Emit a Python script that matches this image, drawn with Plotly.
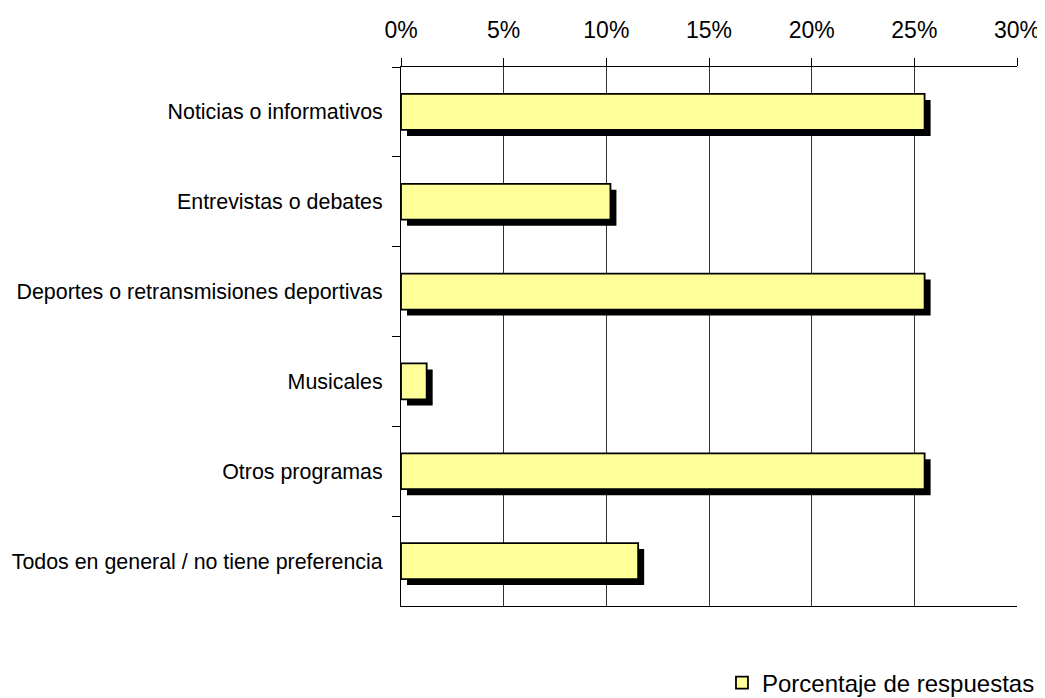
import plotly.graph_objects as go

categories = [
    "Noticias o informativos",
    "Entrevistas o debates",
    "Deportes o retransmisiones deportivas",
    "Musicales",
    "Otros programas",
    "Todos en general / no tiene preferencia",
]
values = [25.5, 10.2, 25.5, 1.25, 25.5, 11.55]
series_name = "Porcentaje de respuestas"
x_ticks = [0, 5, 10, 15, 20, 25, 30]
x_tick_labels = ["0%", "5%", "10%", "15%", "20%", "25%", "30%"]

FONT = "Arial, Liberation Sans, sans-serif"
# page body has an 8px default margin, so the figure is sized/offset to compensate
W, H = 1037, 690
L, R, T, B = 393, 28, 59, 92
plot_w = W - L - R
plot_h = H - T - B
shadow_px = 6
dx = shadow_px * 30 / plot_w
dy = shadow_px * len(categories) / plot_h
bw = 0.4

fig = go.Figure()
fig.add_trace(go.Bar(
    y=categories, x=values, base=dx, orientation="h",
    width=bw, offset=-bw / 2 + dy,
    marker=dict(color="black", line=dict(width=0)),
    showlegend=False, hoverinfo="skip",
))
fig.add_trace(go.Bar(
    y=categories, x=values, orientation="h", name=series_name,
    width=bw, offset=-bw / 2,
    marker=dict(color="#FFFF99", line=dict(color="black", width=1.8)),
))

fig.update_layout(
    width=W, height=H,
    margin=dict(l=L, r=R, t=T, b=B, autoexpand=False),
    barmode="overlay",
    plot_bgcolor="white", paper_bgcolor="white",
    font=dict(family=FONT, color="black"),
    showlegend=True,
    legend=dict(
        xref="container", yref="container",
        x=0.6885, y=0.0217, xanchor="left", yanchor="middle",
        font=dict(size=24, family=FONT),
        bgcolor="rgba(0,0,0,0)",
    ),
    xaxis=dict(
        side="top", range=[0, 30], automargin=False,
        tickvals=x_ticks, ticktext=x_tick_labels, tickangle=0,
        tickfont=dict(size=23),
        showgrid=True, gridcolor="#333333", gridwidth=1,
        showline=True, linecolor="black", linewidth=1, mirror=True,
        ticks="outside", ticklen=8, tickcolor="black",
        ticklabelstandoff=11,
        zeroline=False,
    ),
    yaxis=dict(
        autorange="reversed", automargin=False,
        tickfont=dict(size=21.4),
        showgrid=False,
        showline=True, linecolor="black", linewidth=1,
        ticks="outside", ticklen=8, tickcolor="black",
        tickson="boundaries",
        ticklabelstandoff=13,
    ),
)

fig.write_html("out.html")
